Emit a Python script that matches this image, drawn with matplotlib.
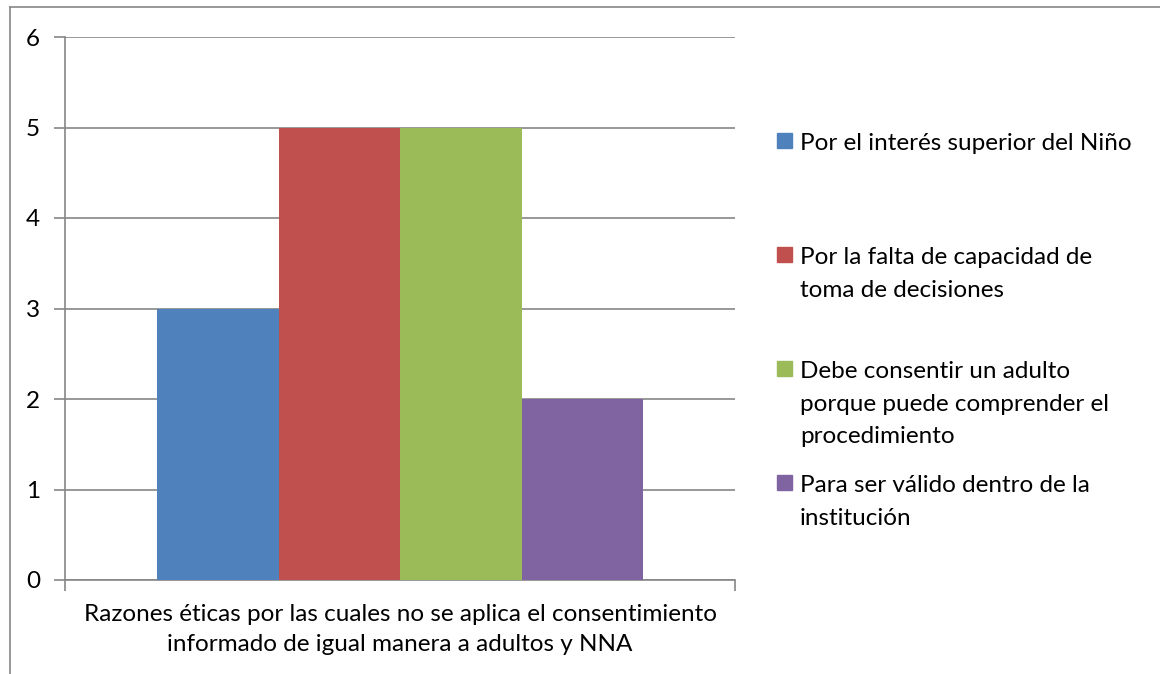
import matplotlib.pyplot as plt
from matplotlib.patches import Rectangle
from matplotlib.lines import Line2D

# === data ===
series = ['Por el interés superior del Niño',
          'Por la falta de capacidad de\ntoma de decisiones',
          'Debe consentir un adulto\nporque puede comprender el\nprocedimiento',
          'Para ser válido dentro de la\ninstitución']
values = [3, 5, 5, 2]
colors = ['#4F81BD', '#C0504D', '#9BBB59', '#8064A2']
category = 'Razones éticas por las cuales no se aplica el consentimiento\ninformado de igual manera a adultos y NNA'
yticks = [0, 1, 2, 3, 4, 5, 6]

plt.rcParams['font.family'] = ['Lato', 'DejaVu Sans']
FS = 17.5
W, H = 1160, 674
fig = plt.figure(figsize=(W / 100, H / 100), dpi=100)
ax = fig.add_axes([65 / W, 1 - 580 / H, 670 / W, 543 / H])

# === bars ===
group = 486 / 670
bw = group / len(values)
for i, (v, c) in enumerate(zip(values, colors)):
    x = -group / 2 + bw * (i + 0.5)
    ax.bar(x, v, width=bw, color=c, zorder=3)

ax.set_xlim(-0.5, 0.5)
ax.set_ylim(0, 6)
ax.set_yticks(yticks)
ax.set_yticklabels([str(t) for t in yticks], fontsize=FS)
ax.yaxis.grid(True, color='#868686', linewidth=1.2, zorder=0)
ax.set_xticks([-0.5, 0.5])
ax.set_xticklabels([])
ax.tick_params(axis='both', direction='out', length=8, color='#868686', width=1.2, pad=10)
for s in ['top', 'right']:
    ax.spines[s].set_visible(False)
for s in ['left', 'bottom']:
    ax.spines[s].set_color('#868686')
    ax.spines[s].set_linewidth(1.2)
ax.set_xlabel(category, fontsize=FS, linespacing=1.52, labelpad=-0.5)

# === legend (manual, Excel style spacing) ===
for i, (lab, c) in enumerate(zip(series, colors)):
    yc = 141 + 114 * i
    fig.patches.append(Rectangle((777 / W, 1 - (yc + 7) / H), 15 / W, 15 / H,
                                 transform=fig.transFigure, color=c))
    fig.text(800 / W, 1 - (yc - 8) / H, lab, fontsize=FS, va='top', ha='left',
             linespacing=1.68)

# chart border (only top/left visible)
fig.lines.append(Line2D([10 / W, 1], [1 - 7 / H, 1 - 7 / H], transform=fig.transFigure,
                        color='#868686', linewidth=1.2))
fig.lines.append(Line2D([10 / W, 10 / W], [0, 1 - 7 / H], transform=fig.transFigure,
                        color='#868686', linewidth=1.2))

fig.savefig('out.png', dpi=100)
